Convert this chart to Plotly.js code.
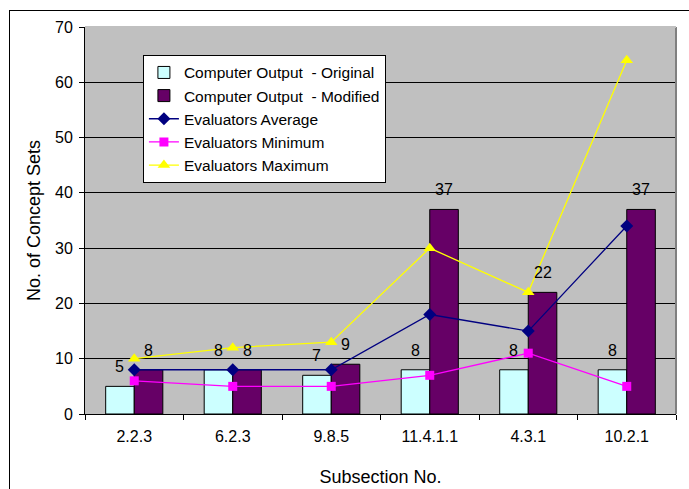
<!DOCTYPE html>
<html>
<head>
<meta charset="utf-8">
<script src="https://cdn.plot.ly/plotly-3.0.1.min.js"></script>
<style>
html,body{margin:0;padding:0;background:#fff;overflow:hidden;}
#wrap{position:relative;width:689px;height:489px;overflow:hidden;}
#chart{position:absolute;left:0;top:0;width:689px;height:489px;}
#frame{position:absolute;left:9px;top:10px;width:700px;height:520px;border:1px solid #000;pointer-events:none;}
</style>
</head>
<body>
<div id="wrap"><div id="chart"></div><div id="frame"></div></div>
<script>
const categories = ["2.2.3", "6.2.3", "9.8.5", "11.4.1.1", "4.3.1", "10.2.1"];
const outputOriginal = [5, 8, 7, 8, 8, 8];
const outputModified = [8, 8, 9, 37, 22, 37];
const evalAverage = [8, 8, 8, 18, 15, 34];
const evalMinimum = [6, 5, 5, 7, 11, 5];
const evalMaximum = [10, 12, 13, 30, 22, 64];
const yTicks = [0, 10, 20, 30, 40, 50, 60, 70];

const font = "Arial, 'Liberation Sans', sans-serif";

const traces = [
  {type: "bar", name: "Computer Output  - Original", x: categories, y: outputOriginal,
   marker: {color: "#CCFFFF", line: {color: "#000", width: 1}}},
  {type: "bar", name: "Computer Output  - Modified", x: categories, y: outputModified,
   marker: {color: "#660066", line: {color: "#000", width: 1}}},
  {type: "scatter", mode: "lines+markers", name: "Evaluators Average", x: categories, y: evalAverage,
   line: {color: "#000080", width: 1.3}, marker: {symbol: "diamond", size: 10, color: "#000080"}},
  {type: "scatter", mode: "lines+markers", name: "Evaluators Minimum", x: categories, y: evalMinimum,
   line: {color: "#FF00FF", width: 1.3}, marker: {symbol: "square", size: 9, color: "#FF00FF"}},
  {type: "scatter", mode: "lines+markers", name: "Evaluators Maximum", x: categories, y: evalMaximum,
   line: {color: "#FFFF00", width: 1.3}, marker: {symbol: "triangle-up", size: 11, color: "#FFFF00"}}
];

const annotations = [];
categories.forEach((c, i) => {
  annotations.push({x: c, y: outputOriginal[i], text: String(outputOriginal[i]), showarrow: false,
    xshift: -14.3, yshift: 9, yanchor: "bottom", font: {family: font, size: 16, color: "#000"}});
  annotations.push({x: c, y: outputModified[i], text: String(outputModified[i]), showarrow: false,
    xshift: 14.3, yshift: 9, yanchor: "bottom", font: {family: font, size: 16, color: "#000"}});
});

const layout = {
  width: 689, height: 489,
  margin: {l: 85, r: 13, t: 27, b: 75},
  paper_bgcolor: "#fff", plot_bgcolor: "#C0C0C0",
  font: {family: font, size: 16, color: "#000"},
  barmode: "group", bargap: 0.42, bargroupgap: 0,
  showlegend: true,
  legend: {x: 0.098, y: 0.928, xanchor: "left", yanchor: "top", bgcolor: "#fff",
           bordercolor: "#000", borderwidth: 1, font: {family: font, size: 15.5}, traceorder: "normal",
           itemwidth: 30},
  xaxis: {type: "category", tickson: "boundaries", ticks: "outside", ticklen: 5, tickcolor: "#000",
          showline: true, linecolor: "#000", linewidth: 1, showgrid: false, ticklabelstandoff: 8,
          tickfont: {size: 16}, title: {text: "Subsection No.", font: {size: 18}, standoff: 26}},
  yaxis: {range: [0, 70], tickvals: yTicks, ticks: "outside", ticklen: 5, tickcolor: "#000",
          showline: true, linecolor: "#000", linewidth: 1, showgrid: true, gridcolor: "#000", gridwidth: 1,
          zeroline: false, tickfont: {size: 16}, ticklabelstandoff: 3,
          title: {text: "No. of Concept Sets", font: {size: 18}, standoff: 9}},
  shapes: [
    {type: "line", xref: "paper", yref: "paper", x0: 1, x1: 1, y0: 0, y1: 1,
     line: {color: "#808080", width: 2}},
    {type: "line", xref: "paper", yref: "paper", x0: 0, x1: 1, y0: 1, y1: 1,
     line: {color: "#C0C0C0", width: 2}}
  ],
  annotations: annotations
};

Plotly.newPlot("chart", traces, layout, {displayModeBar: false, staticPlot: true});
</script>
</body>
</html>
